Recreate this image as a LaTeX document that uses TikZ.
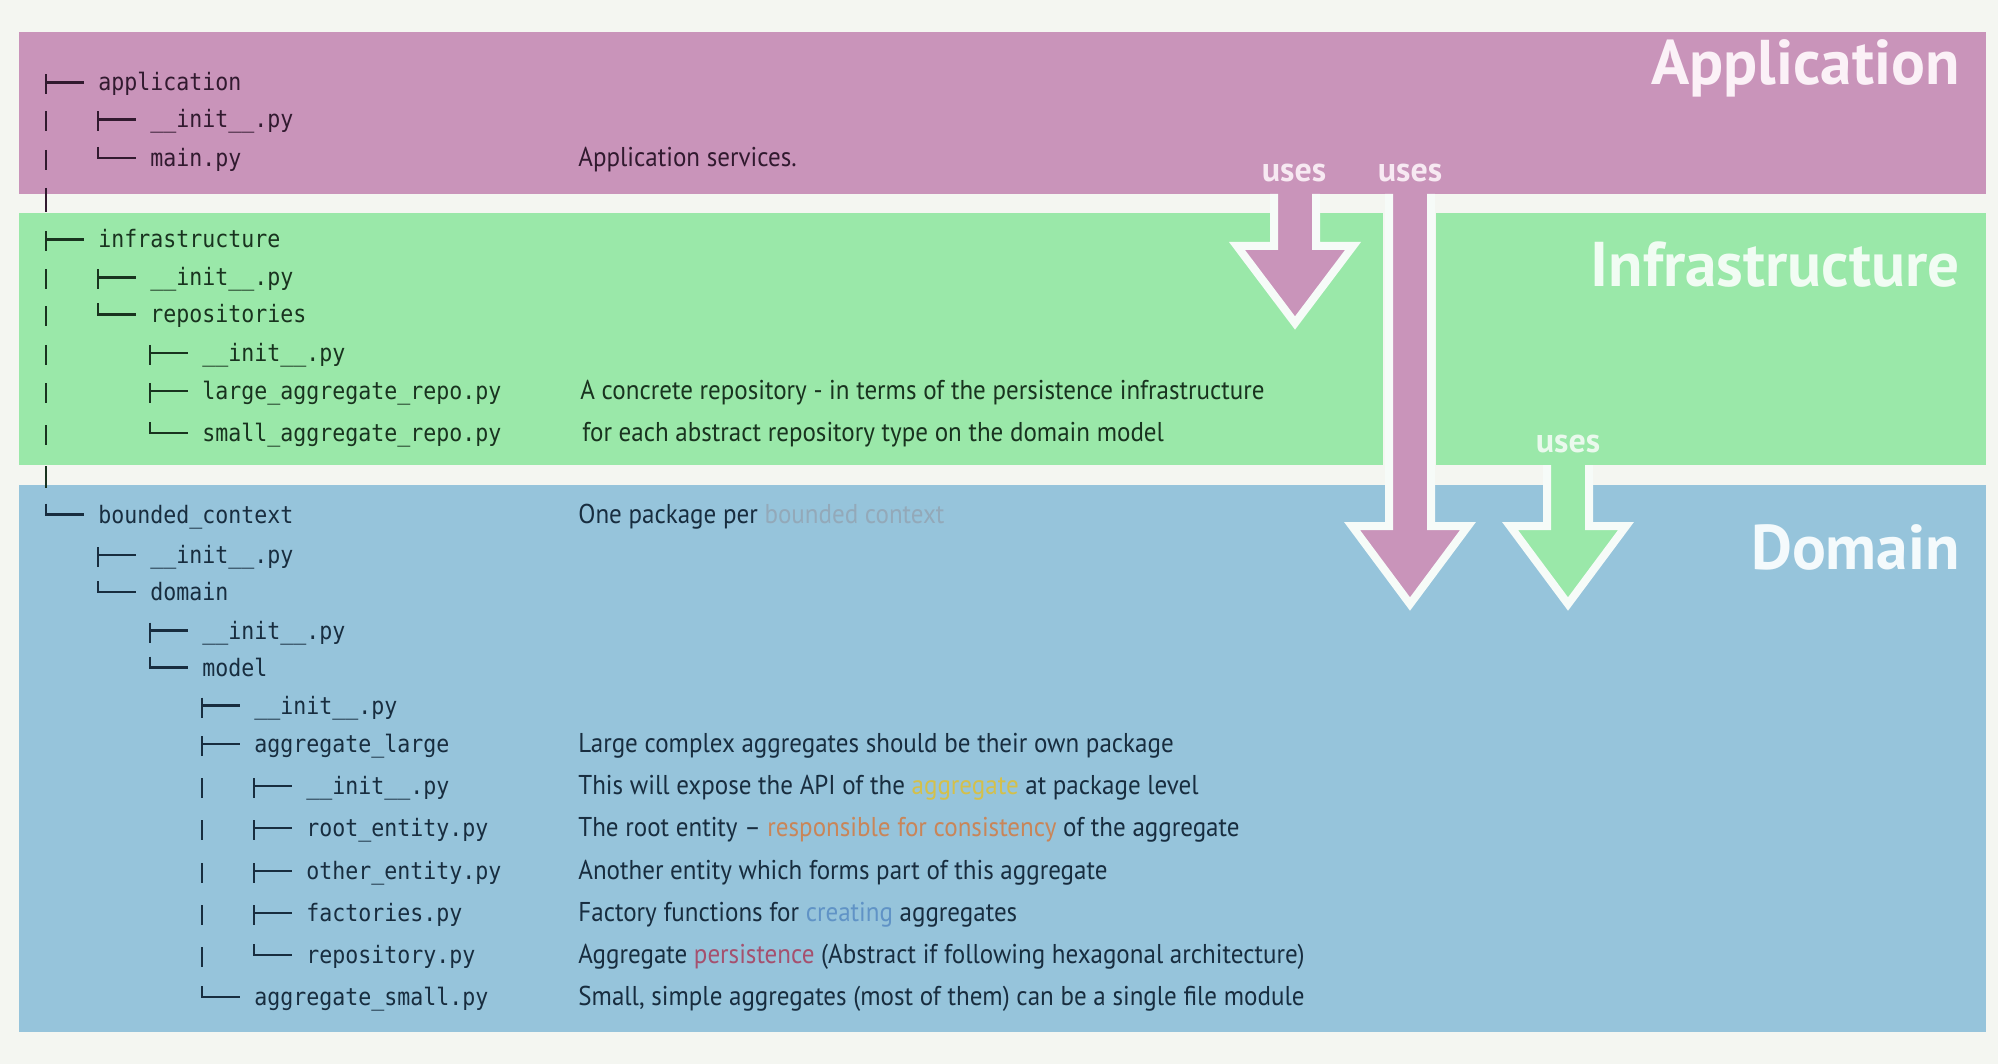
\documentclass[tikz,border=0pt]{standalone}
\usepackage{fontspec}
\usepackage{graphicx}
\setmainfont{PT Sans}
\newfontfamily\treefont[FakeStretch=0.9]{DejaVu Sans Mono}
\newfontfamily\descfont[FakeStretch=0.92]{PT Sans}
\newfontfamily\layerfont{PT Sans}

\definecolor{bgc}{HTML}{F4F6F1}
\definecolor{appband}{HTML}{C994BA}
\definecolor{infband}{HTML}{9AE8A9}
\definecolor{domband}{HTML}{96C4DB}
\definecolor{rim}{HTML}{F6FBF8}
\definecolor{applbl}{HTML}{FBF1F7}
\definecolor{inflbl}{HTML}{F1FCF3}
\definecolor{domlbl}{HTML}{F4FAFC}
\definecolor{usespink}{HTML}{F7E9F2}
\definecolor{usesgreen}{HTML}{EAF9ED}
\definecolor{apptxt}{HTML}{311A2F}
\definecolor{inftxt}{HTML}{19331F}
\definecolor{domtxt}{HTML}{182D3F}
\definecolor{hlgray}{HTML}{93A9B9}
\definecolor{hlyellow}{HTML}{D4C04A}
\definecolor{hlorange}{HTML}{C98558}
\definecolor{hlblue}{HTML}{6093C6}
\definecolor{hlpink}{HTML}{A5506E}

\tikzset{
  tree/.style={font=\treefont\fontsize{12}{14}\selectfont, anchor=base west, inner sep=0pt},
  desc/.style={font=\descfont\fontsize{13.6}{15}\selectfont, anchor=base west, inner sep=0pt},
  layer/.style={font=\layerfont\bfseries\fontsize{31.6}{35}\selectfont, anchor=base east, inner sep=0pt},
  useslbl/.style={font=\layerfont\bfseries\fontsize{17}{19}\selectfont, anchor=base, inner sep=0pt},
  twig/.style={line width=1.3pt},
  rimline/.style={draw=rim, line width=4pt, line join=miter},
  tee/.pic={\draw[twig] (0,-16.5) -- (0,3.5) (0,-8.5) -- (38,-8.5);},
  elbow/.pic={\draw[twig] (0,-19.5) -- (0,-8.5) -- (38,-8.5);},
  pipe/.pic={\draw[twig] (0,-16.5) -- (0,3.5);},
}

% downward "uses" arrow: centre x, top y, head base y, tip y, fill colour
\newcommand\usesarrow[5]{%
  \fill[#5] (#1-21,#2-4) -- (#1-21,#3) -- (#1-58,#3) -- (#1,#4) -- (#1+58,#3)
    -- (#1+21,#3) -- (#1+21,#2-4) -- cycle;
  \draw[rimline] (#1-21,#2) -- (#1-21,#3) -- (#1-58,#3) -- (#1,#4) -- (#1+58,#3)
    -- (#1+21,#3) -- (#1+21,#2);
}

\begin{document}
\begin{tikzpicture}[x=0.5pt,y=-0.5pt]
\fill[bgc] (0,0) rectangle (1998,1064);
\useasboundingbox (0,0) rectangle (1998,1064);

% layer bands
\fill[appband] (19,32) rectangle (1986,194);
\fill[infband] (19,213) rectangle (1383,465);
\fill[infband] (1436,213) rectangle (1986,465);
\fill[domband] (19,485) rectangle (1986,1032);

% layer titles
\node[layer,text=applbl] (ttlapp) at (1960,85) {Application};
\node[layer,text=inflbl] (ttlinf) at (1960,287) {Infrastructure};
\node[layer,text=domlbl] (ttldom) at (1960,569) {Domain};

% dependency arrows
\usesarrow{1295}{194}{246}{323}{appband}
\usesarrow{1410}{194}{526}{604}{appband}
\usesarrow{1568}{465}{526}{604}{infband}
\node[useslbl,text=usespink] (uses1) at (1294,182) {uses};
\node[useslbl,text=usespink] (uses2) at (1410,182) {uses};
\node[useslbl,text=usesgreen] (uses3) at (1568,452) {uses};

% tree columns
\coordinate (c0) at (46,0);
\coordinate (c3) at (202,0);
\coordinate (dcol) at (578,0);

% ---- application package
\node[tree,text=apptxt] (t1) at (98,91) {application};
\node[tree,text=apptxt] (t2) at (150,128) {\_\_init\_\_.py};
\node[tree,text=apptxt] (t3) at (150,166.5) {main.py};
\node[desc,text=apptxt] (d3) at (dcol |- t3.base) {Application services.};
\begin{scope}[apptxt]
  \pic at ([xshift=-26pt]t1.base west) {tee};
  \pic at ([xshift=-26pt]t2.base west) {tee};
  \pic at ([xshift=-26pt]t3.base west) {elbow};
  \pic at (c0 |- t2.base) {pipe};
  \pic at (c0 |- t3.base) {pipe};
  \draw[twig] (46,188) -- (46,212);
\end{scope}

% ---- infrastructure package
\node[tree,text=inftxt] (t5) at (98,248) {infrastructure};
\node[tree,text=inftxt] (t6) at (150,286) {\_\_init\_\_.py};
\node[tree,text=inftxt] (t7) at (150,323) {repositories};
\node[tree,text=inftxt] (t8) at (202,361.5) {\_\_init\_\_.py};
\node[tree,text=inftxt] (t9) at (202,399.5) {large\_aggregate\_repo.py};
\node[tree,text=inftxt] (t10) at (202,441.5) {small\_aggregate\_repo.py};
\node[desc,text=inftxt] (d9) at ([xshift=1pt]dcol |- t9.base) {A concrete repository - in terms of the persistence infrastructure};
\node[desc,text=inftxt] (d10) at ([xshift=2pt]dcol |- t10.base) {for each abstract repository type on the domain model};
\begin{scope}[inftxt]
  \pic at ([xshift=-26pt]t5.base west) {tee};
  \pic at ([xshift=-26pt]t6.base west) {tee};
  \pic at ([xshift=-26pt]t7.base west) {elbow};
  \pic at ([xshift=-26pt]t8.base west) {tee};
  \pic at ([xshift=-26pt]t9.base west) {tee};
  \pic at ([xshift=-26pt]t10.base west) {elbow};
  \foreach \r in {t6,t7,t8,t9,t10} \pic at (c0 |- \r.base) {pipe};
  \draw[twig] (46,466) -- (46,488);
\end{scope}

% ---- domain package
\node[tree,text=domtxt] (t12) at (98,523) {bounded\_context};
\node[tree,text=domtxt] (t13) at (150,563.5) {\_\_init\_\_.py};
\node[tree,text=domtxt] (t14) at (150,600.5) {domain};
\node[tree,text=domtxt] (t15) at (202,639) {\_\_init\_\_.py};
\node[tree,text=domtxt] (t16) at (202,676) {model};
\node[tree,text=domtxt] (t17) at (254,714) {\_\_init\_\_.py};
\node[tree,text=domtxt] (t18) at (254,752.5) {aggregate\_large};
\node[tree,text=domtxt] (t19) at (306,794.5) {\_\_init\_\_.py};
\node[tree,text=domtxt] (t20) at (306,836.5) {root\_entity.py};
\node[tree,text=domtxt] (t21) at (306,879.5) {other\_entity.py};
\node[tree,text=domtxt] (t22) at (306,921.5) {factories.py};
\node[tree,text=domtxt] (t23) at (306,963.5) {repository.py};
\node[tree,text=domtxt] (t24) at (254,1005.5) {aggregate\_small.py};

\node[desc,text=domtxt] (d12) at (dcol |- t12.base) {One package per {\color{hlgray}bounded context}};
\node[desc,text=domtxt] (d18) at (dcol |- t18.base) {Large complex aggregates should be their own package};
\node[desc,text=domtxt] (d19) at (dcol |- t19.base) {This will expose the API of the {\color{hlyellow}aggregate} at package level};
\node[desc,text=domtxt] (d20) at (dcol |- t20.base) {The root entity – {\color{hlorange}responsible for consistency} of the aggregate};
\node[desc,text=domtxt] (d21) at (dcol |- t21.base) {Another entity which forms part of this aggregate};
\node[desc,text=domtxt] (d22) at (dcol |- t22.base) {Factory functions for {\color{hlblue}creating} aggregates};
\node[desc,text=domtxt] (d23) at (dcol |- t23.base) {Aggregate {\color{hlpink}persistence} (Abstract if following hexagonal architecture)};
\node[desc,text=domtxt] (d24) at (dcol |- t24.base) {Small, simple aggregates (most of them) can be a single file module};

\begin{scope}[domtxt]
  \pic at ([xshift=-26pt]t12.base west) {elbow};
  \pic at ([xshift=-26pt]t13.base west) {tee};
  \pic at ([xshift=-26pt]t14.base west) {elbow};
  \pic at ([xshift=-26pt]t15.base west) {tee};
  \pic at ([xshift=-26pt]t16.base west) {elbow};
  \pic at ([xshift=-26pt]t17.base west) {tee};
  \pic at ([xshift=-26pt]t18.base west) {tee};
  \pic at ([xshift=-26pt]t19.base west) {tee};
  \pic at ([xshift=-26pt]t20.base west) {tee};
  \pic at ([xshift=-26pt]t21.base west) {tee};
  \pic at ([xshift=-26pt]t22.base west) {tee};
  \pic at ([xshift=-26pt]t23.base west) {elbow};
  \pic at ([xshift=-26pt]t24.base west) {elbow};
  \foreach \r in {t19,t20,t21,t22,t23} \pic at (c3 |- \r.base) {pipe};
\end{scope}
\end{tikzpicture}
\end{document}
